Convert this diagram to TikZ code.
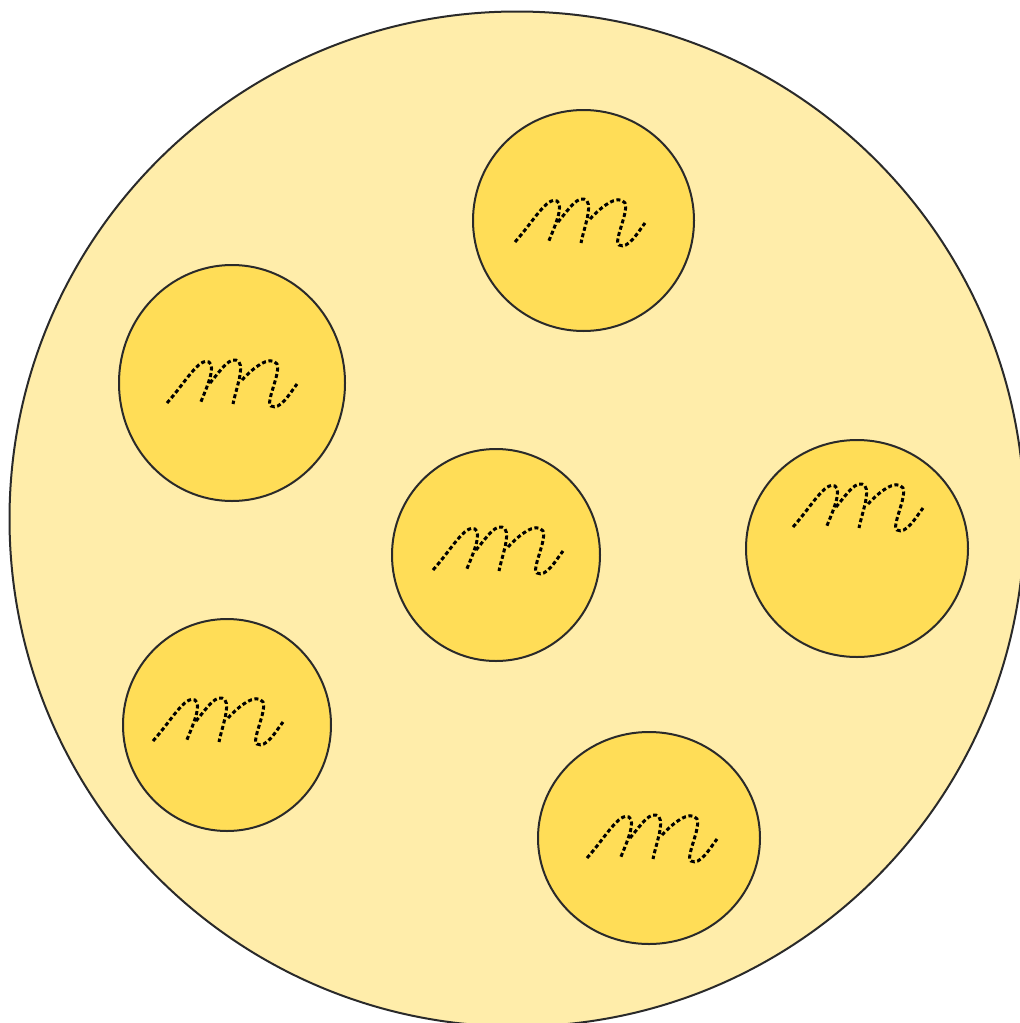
\documentclass[tikz,border=0pt]{standalone}
\usetikzlibrary{shapes.geometric}
\definecolor{bigfill}{HTML}{FFEDAA}
\definecolor{smallfill}{HTML}{FFDD57}
\definecolor{edge}{HTML}{2A2A2A}
\tikzset{
  big/.style={circle, draw=edge, line width=2pt, fill=bigfill, inner sep=0pt, minimum size=1015pt},
  cell/.style={ellipse, draw=edge, line width=2pt, fill=smallfill, inner sep=0pt},
  squig/.style={draw=black, line width=3pt, dash pattern=on 4pt off 2.6pt, line cap=butt},
  pics/mscribble/.style={code={
    \path[squig] (-68,22) .. controls (-50,2) and (-36,-24) .. (-26,-19)
                 .. controls (-19,-14) and (-28,6) .. (-35,23);
    \path[squig] (-25,2) .. controls (-14,-11) and (-4,-27) .. (4,-19)
                 .. controls (9,-12) and (1,8) .. (-2,23);
    \path[squig] (7,-1) .. controls (17,-12) and (35,-27) .. (42,-17)
                 .. controls (46,-8) and (30,22) .. (36,25)
                 .. controls (45,30) and (55,12) .. (62,3);
  }}
}
\begin{document}
\begin{tikzpicture}[x=1pt,y=-1pt]
\useasboundingbox (0,0) rectangle (1020,1023);
\node[big] (outer) at (517,519) {};
\node[cell, minimum width=221pt, minimum height=221pt] (c1) at (583.5,220.5) {};
\node[cell, minimum width=226pt, minimum height=236pt] (c2) at (232,383) {};
\node[cell, minimum width=208pt, minimum height=212pt] (c3) at (496,555) {};
\node[cell, minimum width=222pt, minimum height=217pt] (c4) at (857,548.5) {};
\node[cell, minimum width=208pt, minimum height=212pt] (c5) at (227,725) {};
\node[cell, minimum width=222pt, minimum height=212pt] (c6) at (649,838) {};
\pic at (583,220) {mscribble};
\pic at (235,381) {mscribble};
\pic at (501,548) {mscribble};
\pic at (861,505) {mscribble};
\pic at (221,719) {mscribble};
\pic at (655,836) {mscribble};
\end{tikzpicture}
\end{document}
